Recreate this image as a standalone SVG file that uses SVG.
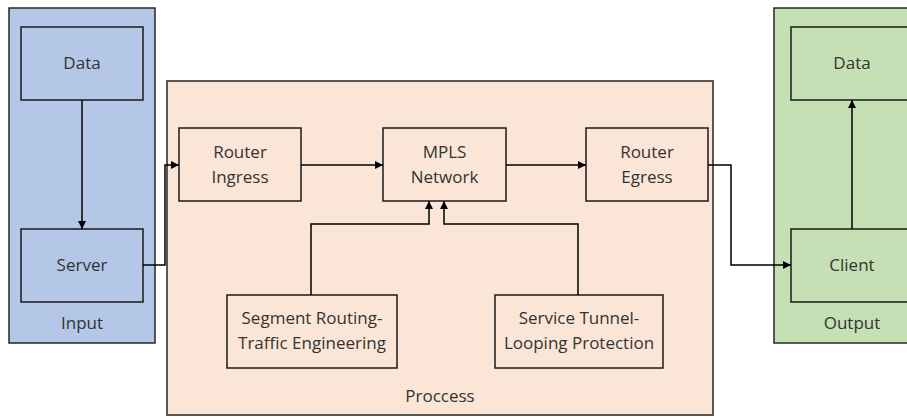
<svg xmlns="http://www.w3.org/2000/svg" width="907" height="418" viewBox="0 0 907 418">
<defs>
<marker id="arr" viewBox="0 0 10 10" refX="10" refY="5" markerWidth="8" markerHeight="8" markerUnits="userSpaceOnUse" orient="auto">
<path d="M0,0 L10,5 L0,10 z" fill="#000"/>
</marker>
<style>
.box{stroke:#1a1a1a;stroke-width:1.5}
.cont{stroke:#262626;stroke-width:1.5}
text{font-family:"Open Sans","Liberation Sans",sans-serif;font-size:17px;fill:#333;text-anchor:middle}
.conn{fill:none;stroke:#000;stroke-width:1.5;marker-end:url(#arr)}
</style>
</defs>
<rect width="907" height="418" fill="#fff"/>
<g id="input">
<rect class="cont" x="9" y="8" width="146" height="335" fill="#b4c7e7"/>
<text x="82" y="329">Input</text>
</g>
<g id="process">
<rect class="cont" x="167" y="81" width="546" height="334" fill="#fbe5d6"/>
<text x="440" y="402">Proccess</text>
</g>
<g id="output">
<rect class="cont" x="774" y="8" width="160" height="335" fill="#c5e0b4"/>
<text x="852" y="329">Output</text>
</g>
<g id="data-in">
<rect class="box" x="21" y="27" width="122" height="73" fill="#b4c7e7"/>
<text x="82" y="69">Data</text>
</g>
<g id="server">
<rect class="box" x="21" y="229" width="122" height="73" fill="#b4c7e7"/>
<text x="82" y="271">Server</text>
</g>
<g id="router-ingress">
<rect class="box" x="179" y="128" width="122" height="73" fill="#fbe5d6"/>
<text x="240" y="158">Router</text>
<text x="240" y="183">Ingress</text>
</g>
<g id="mpls">
<rect class="box" x="383" y="128" width="123" height="73" fill="#fbe5d6"/>
<text x="444.5" y="158">MPLS</text>
<text x="444.5" y="183">Network</text>
</g>
<g id="router-egress">
<rect class="box" x="586" y="128" width="122" height="73" fill="#fbe5d6"/>
<text x="647" y="158">Router</text>
<text x="647" y="183">Egress</text>
</g>
<g id="segment-routing">
<rect class="box" x="227" y="295" width="170" height="73" fill="#fbe5d6"/>
<text x="312" y="324">Segment Routing-</text>
<text x="312" y="349">Traffic Engineering</text>
</g>
<g id="service-tunnel">
<rect class="box" x="495" y="295" width="168" height="73" fill="#fbe5d6"/>
<text x="579" y="324">Service Tunnel-</text>
<text x="579" y="349">Looping Protection</text>
</g>
<g id="data-out">
<rect class="box" x="791" y="27" width="122" height="73" fill="#c5e0b4"/>
<text x="852" y="69">Data</text>
</g>
<g id="client">
<rect class="box" x="791" y="229" width="122" height="73" fill="#c5e0b4"/>
<text x="852" y="271">Client</text>
</g>
<g id="connectors">
<path class="conn" d="M82,100 L82,229"/>
<path class="conn" d="M143,265 L165,265 L165,165 L179,165"/>
<path class="conn" d="M301,165 L383,165"/>
<path class="conn" d="M506,165 L586,165"/>
<path class="conn" d="M311,295 L311,224 L429,224 L429,201"/>
<path class="conn" d="M578,295 L578,224 L444,224 L444,201"/>
<path class="conn" d="M708,165 L731,165 L731,265 L791,265"/>
<path class="conn" d="M852,229 L852,100"/>
</g>
</svg>
